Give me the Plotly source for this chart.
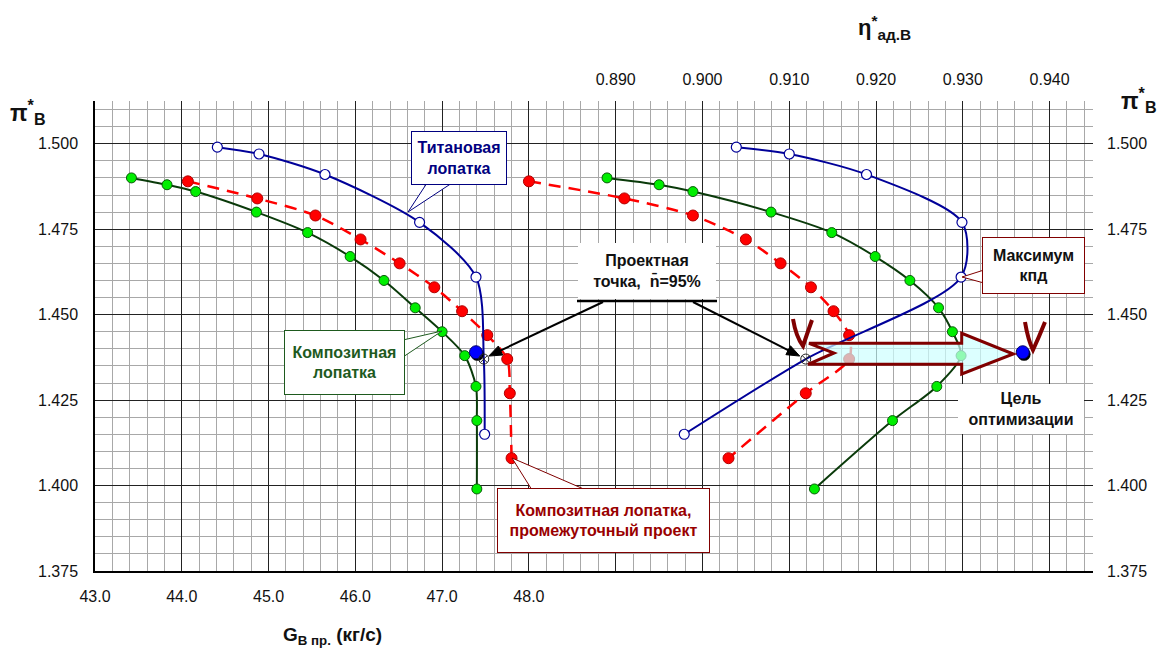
import plotly.graph_objects as go

# ---------------- data ----------------
G_ticks = [43.0, 44.0, 45.0, 46.0, 47.0, 48.0]
eta_ticks = [0.890, 0.900, 0.910, 0.920, 0.930, 0.940]
pi_ticks = [1.375, 1.400, 1.425, 1.450, 1.475, 1.500]

# Titanium blade (blue, open circles); the 6th point is the design point (no circle)
ti_pi = [1.499, 1.497, 1.491, 1.477, 1.461, 1.437, 1.415]
ti_G = [44.41, 44.89, 45.65, 46.74, 47.39, 47.48, 47.49]
ti_eta = [0.9039, 0.9100, 0.9189, 0.9299, 0.9298, 0.9119, 0.8979]
ti_circle = [True, True, True, True, True, False, True]

# Composite blade (green)
co_pi = [1.490, 1.488, 1.486, 1.480, 1.474, 1.467, 1.460, 1.452, 1.445, 1.438, 1.429, 1.419, 1.399]
co_G = [43.42, 43.83, 44.16, 44.86, 45.45, 45.94, 46.33, 46.69, 47.00, 47.26, 47.39, 47.40, 47.40]
co_eta = [0.8890, 0.8950, 0.8989, 0.9079, 0.9149, 0.9199, 0.9239, 0.9272, 0.9288, 0.9298, 0.9270, 0.9219, 0.9129]

# Composite blade, intermediate design (red dashed)
im_pi = [1.489, 1.484, 1.479, 1.472, 1.465, 1.458, 1.451, 1.444, 1.437, 1.427, 1.408]
im_G = [44.07, 44.87, 45.54, 46.06, 46.51, 46.91, 47.23, 47.52, 47.75, 47.78, 47.80]
im_eta = [0.8800, 0.8910, 0.8989, 0.9050, 0.9090, 0.9125, 0.9151, 0.9169, 0.9169, 0.9119, 0.9030]

# design point (cross) and optimisation goal (blue dot)
des_G, des_eta, des_pi = [47.48], [0.9119], [1.437]
goal_G, goal_eta, goal_pi = [47.39], [0.9369], [1.439]

# ---------------- geometry helpers ----------------
W, H = 1161, 648
L, R, T, B = 95, 1093, 101, 571
G_rng = [43.0, 54.5]
eta_rng = [0.830, 0.945]
pi_rng = [1.375, 1.5125]


def fx(px):
    return (px - L) / (R - L)


def fy(py):
    return (B - py) / (B - T)


def e_px(px):
    return eta_rng[0] + fx(px) * (eta_rng[1] - eta_rng[0])


def p_py(py):
    return pi_rng[0] + fy(py) * (pi_rng[1] - pi_rng[0])


def G_to_px(g):
    return L + (g - G_rng[0]) / (G_rng[1] - G_rng[0]) * (R - L)


def eta_to_px(e):
    return L + (e - eta_rng[0]) / (eta_rng[1] - eta_rng[0]) * (R - L)


def pi_to_py(p):
    return B - (p - pi_rng[0]) / (pi_rng[1] - pi_rng[0]) * (B - T)


FONT = "Liberation Sans, Arial, sans-serif"
BLUE = "#000099"
GREEN_LINE = "#0a3a0a"
GREEN_FILL = "#00ee00"
RED = "#ff0000"
MAROON = "#800000"

fig = go.Figure()


def add_series(x, y, xa, ya, line, marker):
    fig.add_trace(go.Scatter(x=x, y=y, xaxis=xa, yaxis=ya, mode="lines+markers",
                             line=line, marker=marker, showlegend=False, hoverinfo="skip"))


for xa, ya, tiX, coX, imX, dX, gX, sx in [("x", "y", ti_G, co_G, im_G, des_G, goal_G, 0.016),
                                          ("x2", "y2", ti_eta, co_eta, im_eta, des_eta, goal_eta, 0.00016)]:
    add_series(imX, im_pi, xa, ya,
               dict(color=RED, width=2.5, dash="12px,8px", shape="spline", smoothing=0.8),
               dict(size=11, color=RED, line=dict(color="#b00000", width=1)))
    add_series(coX, co_pi, xa, ya,
               dict(color=GREEN_LINE, width=2, shape="spline", smoothing=0.8),
               dict(size=10, color=GREEN_FILL, line=dict(color="#0a5a0a", width=1)))
    add_series(tiX, ti_pi, xa, ya,
               dict(color=BLUE, width=2, shape="spline", smoothing=0.8),
               dict(size=[10 if c else 0 for c in ti_circle], color="white",
                    line=dict(color=BLUE, width=[1.2 if c else 0 for c in ti_circle]), opacity=1))
    # goal dot with a small shadow
    fig.add_trace(go.Scatter(x=[v + sx for v in gX], y=[v - 0.0006 for v in goal_pi],
                             xaxis=xa, yaxis=ya, mode="markers",
                             marker=dict(size=13, color="black"), showlegend=False, hoverinfo="skip"))
    fig.add_trace(go.Scatter(x=gX, y=goal_pi, xaxis=xa, yaxis=ya, mode="markers",
                             marker=dict(size=13, color="#0000ff", line=dict(color="#000066", width=1)),
                             showlegend=False, hoverinfo="skip"))
    fig.add_trace(go.Scatter(x=dX, y=des_pi, xaxis=xa, yaxis=ya, mode="markers",
                             marker=dict(size=10, symbol="circle-x-open", color="#222222",
                                         line=dict(color="#222222", width=1)),
                             showlegend=False, hoverinfo="skip"))

# ---------------- axes ----------------
tickfont = dict(family=FONT, size=16, color="#111111")
fig.update_layout(
    width=W, height=H, autosize=False,
    margin=dict(l=L, r=W - R, t=T, b=H - B, pad=0),
    plot_bgcolor="white", paper_bgcolor="white",
    font=dict(family=FONT),
    xaxis=dict(range=G_rng, tickmode="array", tickvals=G_ticks,
               ticktext=[f"{v:.1f}" for v in G_ticks],
               showgrid=True, gridcolor="#222222", gridwidth=1, zeroline=False,
               showline=True, linecolor="black", linewidth=1.5, ticks="",
               tickfont=tickfont, ticklabelstandoff=10,
               minor=dict(tickmode="linear", tick0=43, dtick=0.2, showgrid=True,
                          gridcolor="#a8a8a8", gridwidth=1, ticks="")),
    xaxis2=dict(range=eta_rng, overlaying="x", side="top", anchor="y", tickmode="array",
                tickvals=eta_ticks, ticktext=[f"{v:.3f}" for v in eta_ticks],
                showgrid=True, gridcolor="#222222", gridwidth=1,
                zeroline=False, showline=False, ticks="",
                tickfont=tickfont, ticklabelstandoff=12),
    yaxis=dict(range=pi_rng, tickmode="array", tickvals=pi_ticks,
               ticktext=[f"{v:.3f}" for v in pi_ticks],
               showgrid=True, gridcolor="#222222", gridwidth=1, zeroline=False,
               showline=True, linecolor="black", linewidth=1.5, ticks="",
               tickfont=tickfont, ticklabelstandoff=12,
               minor=dict(tickmode="linear", tick0=1.375, dtick=0.005, showgrid=True,
                          gridcolor="#a8a8a8", gridwidth=1, ticks="")),
    yaxis2=dict(range=pi_rng, overlaying="y", side="right", anchor="x", tickmode="array",
                tickvals=pi_ticks, ticktext=[f"{v:.3f}" for v in pi_ticks],
                showgrid=False, zeroline=False, showline=False, ticks="",
                tickfont=tickfont, ticklabelstandoff=13),
)

shapes = []
annotations = []


def wedge(b1, tip, b2, color):
    shapes.append(dict(type="path", xref="paper", yref="paper",
                       path=f"M {fx(b1[0])},{fy(b1[1])} L {fx(tip[0])},{fy(tip[1])} L {fx(b2[0])},{fy(b2[1])} Z",
                       fillcolor="white", line=dict(color=color, width=1), layer="above"))


def box(x0, y0, x1, y1, text, color, border=None):
    annotations.append(dict(xref="paper", yref="paper", x=fx((x0 + x1) / 2), y=fy((y0 + y1) / 2),
                            xanchor="center", yanchor="middle", showarrow=False,
                            width=x1 - x0 - 2, height=y1 - y0 - 2, borderpad=0,
                            bgcolor="white", bordercolor=border or "rgba(0,0,0,0)",
                            borderwidth=1 if border else 0,
                            text=text, font=dict(family=FONT, size=16, color=color)))


def arrow(tail, head, color="black", width=2, hl=13, hw=5):
    import math
    dx, dy = head[0] - tail[0], head[1] - tail[1]
    d = math.hypot(dx, dy)
    ux, uy = dx / d, dy / d
    bx, by = head[0] - ux * hl, head[1] - uy * hl
    shapes.append(dict(type="line", xref="paper", yref="paper", x0=fx(tail[0]), y0=fy(tail[1]),
                       x1=fx(bx + ux * 2), y1=fy(by + uy * 2), line=dict(color=color, width=width),
                       layer="above"))
    p1 = (bx - uy * hw, by + ux * hw)
    p2 = (bx + uy * hw, by - ux * hw)
    shapes.append(dict(type="path", xref="paper", yref="paper",
                       path=f"M {fx(head[0])},{fy(head[1])} L {fx(p1[0])},{fy(p1[1])} "
                            f"L {fx(p2[0])},{fy(p2[1])} Z",
                       fillcolor=color, line=dict(color=color, width=1), layer="above"))


# callouts
wedge((427, 183), (408, 212), (452, 183), "#000080")
box(411, 131, 507, 185, "<b>Титановая<br>лопатка</b>", "#000080", "#000080")

wedge((403, 340), (442, 331), (403, 357), "#1e5a1e")
box(284, 330, 405, 395, "<b>Композитная<br>лопатка</b>", "#1e5a1e", "#1e5a1e")

wedge((984, 270), (962, 277), (984, 283), MAROON)
box(982, 237, 1085, 294, "<b>Максимум<br>кпд</b>", "#111111", MAROON)

wedge((532, 490), (512, 458), (586, 490), MAROON)
box(497, 488, 710, 553, "<b>Композитная лопатка,<br>промежуточный проект</b>", "#990000", MAROON)

box(577, 242, 717, 300, "<b>Проектная<br>точка,  n\u0304=95%</b>", "#111111")
shapes.append(dict(type="line", xref="paper", yref="paper", x0=fx(577), x1=fx(717), y0=fy(301), y1=fy(301),
                   line=dict(color="black", width=2.5), layer="above"))

box(957, 383, 1085, 435, "<b>Цель<br>оптимизации</b>", "#111111")

# design-point arrows (tip a few px short of the cross markers)
hxL, hyL = G_to_px(des_G[0]), pi_to_py(des_pi[0])
hxR = eta_to_px(des_eta[0])
arrow((603, 302), (hxL + 5, hyL - 3))
arrow((693, 302), (hxR - 6, hyL - 3))

# optimisation arrow (notched block arrow)
arrow_px = [(809, 343.3), (961.7, 343.3), (961.7, 333.3), (1013.3, 354), (961.7, 374),
            (961.7, 364.3), (808, 364.3), (834, 353)]
path = "M " + " L ".join(f"{e_px(a)},{p_py(b)}" for a, b in arrow_px) + " Z"
shapes.append(dict(type="path", xref="x2", yref="y2", path=path,
                   fillcolor="rgba(205,255,255,0.7)", line=dict(color=MAROON, width=3), layer="above"))

# hand-drawn "V" marks
for pts in [[(793, 319), (796, 337), (803, 346), (807, 334), (812, 320)],
            [(1025, 322), (1028, 340), (1033, 350), (1039, 337), (1045, 322)]]:
    p = [(e_px(a), p_py(b)) for a, b in pts]
    shapes.append(dict(type="path", xref="x2", yref="y2",
                       path=f"M {p[0][0]},{p[0][1]} Q {p[1][0]},{p[1][1]} {p[2][0]},{p[2][1]} "
                            f"Q {p[3][0]},{p[3][1]} {p[4][0]},{p[4][1]}",
                       line=dict(color=MAROON, width=4), layer="above"))

# axis titles
for px_, py_, txt, sz in [(28, 112, "<b>π<sup>*</sup><sub>В</sub></b>", 23),
                          (1139, 100, "<b>π<sup>*</sup><sub>В</sub></b>", 23),
                          (884, 28, "<b>η<sup>*</sup><sub>ад.В</sub></b>", 22),
                          (332, 636, "<b>G<sub>В пр.</sub> (кг/с)</b>", 19)]:
    annotations.append(dict(xref="paper", yref="paper", x=fx(px_), y=fy(py_), xanchor="center",
                            yanchor="middle", showarrow=False, text=txt,
                            font=dict(family=FONT, size=sz, color="#111111")))

fig.update_layout(shapes=shapes, annotations=annotations)
fig.write_html("out.html")
